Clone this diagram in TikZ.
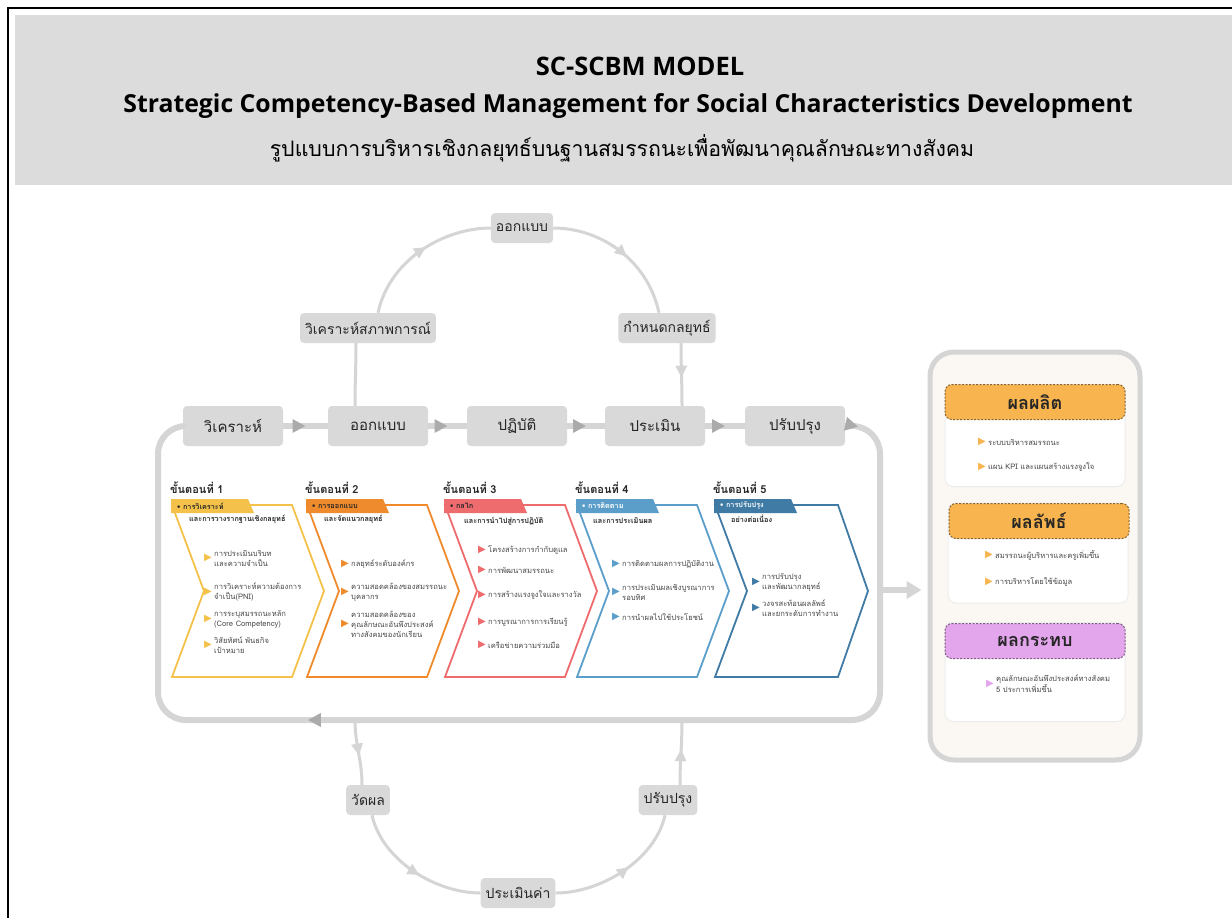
\documentclass[tikz,border=0pt]{standalone}
\usepackage{fontspec}
\setmainfont[Script=Thai]{Loma}
\newfontfamily\titlefont{Open Sans}
\newfontfamily\symfont{DejaVu Sans}
\usetikzlibrary{arrows.meta,decorations.markings}

\definecolor{boxgray}{HTML}{D9D9D9}
\definecolor{ringgray}{HTML}{D5D5D5}
\definecolor{tipgray}{HTML}{ABABAB}
\definecolor{headgray}{HTML}{DCDCDC}
\definecolor{txt}{HTML}{262626}
\definecolor{stA}{HTML}{F4C24A}
\definecolor{stB}{HTML}{EF8B2C}
\definecolor{stC}{HTML}{EE6B6E}
\definecolor{stD}{HTML}{5B9EC9}
\definecolor{stE}{HTML}{3F7BA4}
\definecolor{cream}{HTML}{FBF8F3}
\definecolor{outorange}{HTML}{F8B44E}
\definecolor{outviolet}{HTML}{E3A6EC}

\begin{document}
\begin{tikzpicture}[x=1pt,y=-1pt,
    stepbox/.style={fill=boxgray,rounded corners=4pt,minimum width=100pt,minimum height=40pt,text=txt,font=\fontsize{15}{18}\selectfont},
    arcbox/.style={fill=boxgray,rounded corners=4pt,minimum height=30pt,inner xsep=5pt,text=txt,font=\fontsize{14}{16}\selectfont},
    ring/.style={draw=ringgray,line width=6pt},
    arcline/.style={draw=ringgray,line width=3pt},
    hop/.style={postaction={decorate},decoration={markings,mark=at position #1 with {\arrow{Triangle[length=13pt,width=13pt,color=tipgray]}}}},
    arcarrow/.style={postaction={decorate},decoration={markings,mark=at position 0.55 with {\arrow{Triangle[length=12pt,width=11pt,color=ringgray]}}}},
    chev/.style={line width=1.8pt,line join=miter},
    stephead/.style={font=\bfseries\fontsize{11}{12}\selectfont,text=txt,anchor=west,inner sep=0pt},
    bandtxt/.style={font=\bfseries\fontsize{7.3}{8}\selectfont,anchor=west,inner sep=0pt},
    item/.style={font=\fontsize{7.6}{10}\selectfont,text=txt!85,align=left,anchor=west,inner sep=1pt},
    bul/.style={label={[text=#1,font=\symfont\fontsize{10}{10}\selectfont,inner sep=1pt]left:▶}},
    panel/.style={fill=cream,draw=ringgray,line width=5pt,rounded corners=24pt,minimum width=210pt,minimum height=408pt},
    card/.style={fill=white,draw=black!7,line width=1pt,rounded corners=8pt,minimum width=180pt},
    outhead/.style={fill=#1,draw=#1!55!black,dash pattern=on 2pt off 1.5pt,line width=1pt,rounded corners=7pt,minimum width=180pt,minimum height=35pt,text=txt,font=\bfseries\fontsize{18}{20}\selectfont}
  ]
  \useasboundingbox (0,0) rectangle (1232,918);
  \fill[white] (0,0) rectangle (1232,918);
  \fill[headgray] (15,15) rectangle (1232,185);
  \draw[line width=2pt] (8,918) -- (8,8) -- (1232,8);

  \node[font=\titlefont\bfseries\fontsize{25.5}{28}\selectfont] (ttl) at (640,66) {SC-SCBM MODEL};
  \node[font=\titlefont\bfseries\fontsize{24.8}{28}\selectfont] (sub) at (628,106) {Strategic Competency-Based Management for Social Characteristics Development};
  \node[font=\fontsize{21.3}{24}\selectfont] (thai) at (622,148) {รูปแบบการบริหารเชิงกลยุทธ์บนฐานสมรรถนะเพื่อพัฒนาคุณลักษณะทางสังคม};

  \node[stepbox] (b1) at (233,426) {วิเคราะห์};
  \node[stepbox] (b2) at (378,426) {ออกแบบ};
  \node[stepbox] (b3) at (517,426) {ปฏิบัติ};
  \node[stepbox] (b4) at (655,426) {ประเมิน};
  \node[stepbox] (b5) at (795,426) {ปรับปรุง};

  \draw[ring,hop=0.5] (b1) -- (b2);
  \draw[ring,hop=0.5] (b2) -- (b3);
  \draw[ring,hop=0.5] (b3) -- (b4);
  \draw[ring,hop=0.5] (b4) -- (b5);
  \draw[ring,rounded corners=28pt,postaction={decorate},decoration={markings,
      mark=at position 13pt with {\arrow{Triangle[length=13pt,width=13pt,color=tipgray]}},
      mark=at position 877pt with {\arrow{Triangle[length=13pt,width=13pt,color=tipgray]}}}]
    (b5.east) -- (880,426) -- (880,720) -- (158,720) -- (158,426) -- (b1.west);

  \node[arcbox] (ana) at (368,328) {วิเคราะห์สภาพการณ์};
  \node[arcbox] (des) at (522,228) {ออกแบบ};
  \node[arcbox] (str) at (667,328) {กำหนดกลยุทธ์};
  \draw[arcline] ([xshift=-23pt]b2.north) .. controls +(0,-25) and +(0,25) .. ([xshift=-12pt]ana.south);
  \draw[arcline,arcarrow] ([xshift=10pt]ana.north) .. controls +(12,-55) and +(-45,0) .. (des.west);
  \draw[arcline,arcarrow] (des.east) .. controls +(45,0) and +(-12,-55) .. ([xshift=-8pt]str.north);
  \draw[arcline,arcarrow] ([xshift=14pt]str.south) .. controls +(0,25) and +(0,-25) .. ([xshift=27pt]b4.north);

  \coordinate (q1) at (355,720);
  \coordinate (q2) at (682,720);
  \node[arcbox] (mea) at (368,800) {วัดผล};
  \node[arcbox] (eva) at (518,893) {ประเมินค่า};
  \node[arcbox] (imp) at (668,800) {ปรับปรุง};
  \draw[arcline,arcarrow] (q1) .. controls +(0,25) and +(0,-25) .. ([xshift=-6pt]mea.north);
  \draw[arcline,arcarrow] ([xshift=4pt]mea.south) .. controls +(10,45) and +(-45,0) .. (eva.west);
  \draw[arcline,arcarrow] (eva.east) .. controls +(45,0) and +(-10,45) .. ([xshift=-3pt]imp.south);
  \draw[arcline,arcarrow] ([xshift=12pt]imp.north) .. controls +(0,-25) and +(0,25) .. (q2);

  \draw[chev,stA] (172,505) -- (292,505) -- (324,591) -- (292,677) -- (172,677) -- (204,591) -- cycle;
  \draw[chev,stB] (307,505) -- (427,505) -- (459,591) -- (427,677) -- (307,677) -- (339,591) -- cycle;
  \draw[chev,stC] (445,505) -- (565,505) -- (597,591) -- (565,677) -- (445,677) -- (477,591) -- cycle;
  \draw[chev,stD] (577,505) -- (697,505) -- (729,591) -- (697,677) -- (577,677) -- (609,591) -- cycle;
  \draw[chev,stE] (715,505) -- (838,505) -- (868,591) -- (838,677) -- (715,677) -- (747,591) -- cycle;

  \fill[stA] (171,499) -- (248,499) -- (254,513) -- (171,513) -- cycle;
  \fill[stB] (306,499) -- (383,499) -- (389,513) -- (306,513) -- cycle;
  \fill[stC] (444,499) -- (521,499) -- (527,513) -- (444,513) -- cycle;
  \fill[stD] (576,499) -- (653,499) -- (659,513) -- (576,513) -- cycle;
  \fill[stE] (714,499) -- (791,499) -- (797,513) -- (714,513) -- cycle;

  \node[stephead] (h1) at (170,488) {ขั้นตอนที่ 1};
  \node[stephead] (h2) at (305,488) {ขั้นตอนที่ 2};
  \node[stephead] (h3) at (443,488) {ขั้นตอนที่ 3};
  \node[stephead] (h4) at (575,488) {ขั้นตอนที่ 4};
  \node[stephead] (h5) at (713,488) {ขั้นตอนที่ 5};

  \node[bandtxt,text=txt] (t1) at (177,506) {\textbullet\ การวิเคราะห์};
  \node[bandtxt,text=txt] (u1) at (189,519) {และการวางรากฐานเชิงกลยุทธ์};
  \node[bandtxt,text=txt] (t2) at (312,506) {\textbullet\ การออกแบบ};
  \node[bandtxt,text=txt] (u2) at (324,519) {และจัดแนวกลยุทธ์};
  \node[bandtxt,text=txt] (t3) at (450,506) {\textbullet\ กลไก};
  \node[bandtxt,text=txt] (u3) at (464,521) {และการนำไปสู่การปฏิบัติ};
  \node[bandtxt,text=white] (t4) at (582,506) {\textbullet\ การติดตาม};
  \node[bandtxt,text=txt] (u4) at (593,521) {และการประเมินผล};
  \node[bandtxt,text=white] (t5) at (720,506) {\textbullet\ การปรับปรุง};
  \node[bandtxt,text=txt] (u5) at (731,519) {อย่างต่อเนื่อง};

  \node[item,bul=stA] (s1a) at (213,558) {การประเมินบริบท\\และความจำเป็น};
  \node[item,bul=stA] (s1b) at (213,592) {การวิเคราะห์ความต้องการ\\จำเป็น(PNI)};
  \node[item,bul=stA] (s1c) at (213,619) {การระบุสมรรถนะหลัก\\(Core Competency)};
  \node[item,bul=stA] (s1d) at (213,645) {วิสัยทัศน์ พันธกิจ\\เป้าหมาย};

  \node[item,bul=stB] (s2a) at (350,564) {กลยุทธ์ระดับองค์กร};
  \node[item,bul=stB] (s2b) at (350,592) {ความสอดคล้องของสมรรถนะ\\บุคลากร};
  \node[item,bul=stB] (s2c) at (350,624) {ความสอดคล้องของ\\คุณลักษณะอันพึงประสงค์\\ทางสังคมของนักเรียน};

  \node[item,bul=stC] (s3a) at (487,550) {โครงสร้างการกำกับดูแล};
  \node[item,bul=stC] (s3b) at (487,570) {การพัฒนาสมรรถนะ};
  \node[item,bul=stC] (s3c) at (487,595) {การสร้างแรงจูงใจและรางวัล};
  \node[item,bul=stC] (s3d) at (487,622) {การบูรณาการการเรียนรู้};
  \node[item,bul=stC] (s3e) at (487,645) {เครือข่ายความร่วมมือ};

  \node[item,bul=stD] (s4a) at (621,564) {การติดตามผลการปฏิบัติงาน};
  \node[item,bul=stD] (s4b) at (621,592) {การประเมินผลเชิงบูรณาการ\\รอบทิศ};
  \node[item,bul=stD] (s4c) at (621,617) {การนำผลไปใช้ประโยชน์};

  \node[item,bul=stE] (s5a) at (761,582) {การปรับปรุง\\และพัฒนากลยุทธ์};
  \node[item,bul=stE] (s5b) at (761,608) {วงจรสะท้อนผลลัพธ์\\และยกระดับการทำงาน};

  \node[panel] (res) at (1035,556) {};
  \coordinate (fr) at (883,590);
  \draw[ring,-{Triangle[length=15pt,width=17pt]}] (fr) -- ([xshift=-6pt]res.west |- fr);

  \node[card,minimum height=101pt] (c1) at (1035,436) {};
  \node[outhead=outorange] (o1) at (1035,402) {ผลผลิต};
  \node[item,bul=outorange] (r1a) at (987,442) {ระบบบริหารสมรรถนะ};
  \node[item,bul=outorange] (r1b) at (987,467) {แผน KPI และแผนสร้างแรงจูงใจ};

  \node[card,minimum height=100pt] (c2) at (1038,553) {};
  \node[outhead=outorange] (o2) at (1039,521) {ผลลัพธ์};
  \node[item,bul=outorange] (r2a) at (994,555) {สมรรถนะผู้บริหารและครูเพิ่มขึ้น};
  \node[item,bul=outorange] (r2b) at (994,582) {การบริหารโดยใช้ข้อมูล};

  \node[card,minimum height=99pt] (c3) at (1035,672) {};
  \node[outhead=outviolet] (o3) at (1035,641) {ผลกระทบ};
  \node[item,bul=outviolet] (r3a) at (995,684) {คุณลักษณะอันพึงประสงค์ทางสังคม\\5 ประการเพิ่มขึ้น};
\end{tikzpicture}
\end{document}
